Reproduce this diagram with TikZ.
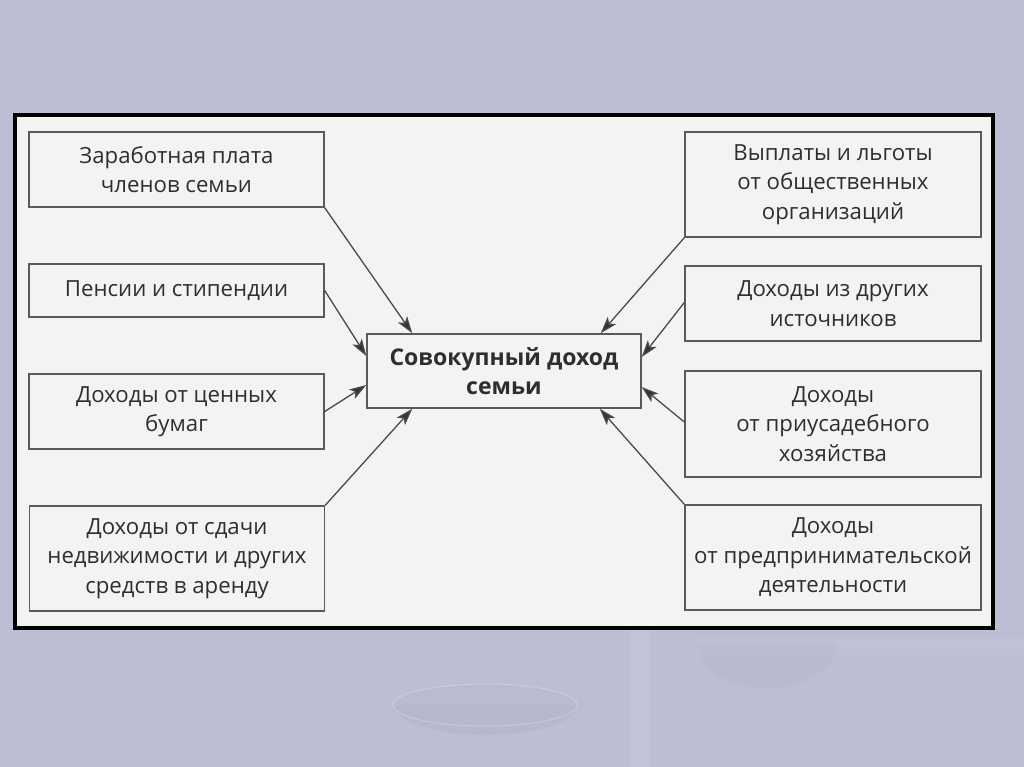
\documentclass[tikz,border=0pt]{standalone}
\usepackage{fontspec}
\setmainfont{Open Sans}
\usetikzlibrary{arrows.meta,calc}
\definecolor{bgc}{HTML}{BDBDD4}
\definecolor{panelc}{HTML}{F3F3F2}
\definecolor{boxline}{HTML}{5A5A5A}
\definecolor{txt}{HTML}{2E2E2E}
\definecolor{arr}{HTML}{4A4A4A}
\tikzset{
  box/.style={draw=boxline, line width=1.4pt, fill=panelc, text=txt, align=center,
    inner sep=0pt, font=\fontsize{22.2}{29.5}\selectfont},
  lbox/.style={box, minimum width=295pt},
  rbox/.style={box, minimum width=296pt},
  cbox/.style={box, minimum width=274pt, minimum height=74pt, font=\bfseries\fontsize{23}{29.5}\selectfont},
  conn/.style={draw=arr, line width=1.3pt, -{Stealth[length=17pt,width=11pt,inset=4pt,fill=black!80]}}
}
\begin{document}
\begin{tikzpicture}[x=1pt,y=-1pt]
\fill[bgc] (0,0) rectangle (1024,767);
\useasboundingbox (0,0) rectangle (1024,767);
% faint decorations
\fill[white,opacity=0.10] (630,628) rectangle (650,767);
\fill[black!3!bgc] (393,705) arc[start angle=180, end angle=360, x radius=92pt, y radius=30pt] -- cycle;
\draw[white,opacity=0.25,line width=1pt,fill=black!5!bgc] (485,705) ellipse (92pt and 21pt);
\fill[black!2!bgc] (697,643) arc[start angle=180, end angle=360, x radius=70pt, y radius=45pt] -- cycle;
\fill[white,opacity=0.06] (697,638) rectangle (1024,655);
% panel
\draw[black, line width=4pt, fill=panelc] (15,115) rectangle (993,628);
% left boxes
\node[lbox, minimum height=75pt] (L1) at (176.5,169.5) {Заработная плата\\членов семьи};
\node[lbox, minimum height=53pt] (L2) at (176.5,290.5) {Пенсии и стипендии};
\node[lbox, minimum height=75pt] (L3) at (176.5,411.5) {Доходы от ценных\\бумаг};
\node[lbox, minimum height=105pt] (L4) at (177,558.5) {Доходы от сдачи\\недвижимости и других\\средств в аренду};
% centre
\node[cbox] (C) at (504,371) {Совокупный доход\\семьи};
% right boxes
\node[rbox, minimum height=105pt] (R1) at (833,184.5) {Выплаты и льготы\\от общественных\\организаций};
\node[rbox, minimum height=75pt] (R2) at (833,303.5) {Доходы из других\\источников};
\node[rbox, minimum height=106pt] (R3) at (833,424) {Доходы\\от приусадебного\\хозяйства};
\node[rbox, minimum height=105pt] (R4) at (833,557.5) {Доходы\\от предпринимательской\\деятельности};
% connectors
\draw[conn] (L1.south east) -- ($(C.north west)+(46,0)$);
\draw[conn] (L2.east) -- ($(C.west)+(0,-15)$);
\draw[conn] (L3.east) -- ($(C.west)+(0,14)$);
\draw[conn] (L4.north east) -- ($(C.south west)+(46,0)$);
\draw[conn] (R1.south west) -- ($(C.north east)+(-41,0)$);
\draw[conn] ($(R2.west)+(0,-1)$) -- ($(C.east)+(0,-14)$);
\draw[conn] ($(R3.west)+(0,-2)$) -- ($(C.east)+(0,16)$);
\draw[conn] (R4.north west) -- ($(C.south east)+(-42,0)$);
\end{tikzpicture}
\end{document}
